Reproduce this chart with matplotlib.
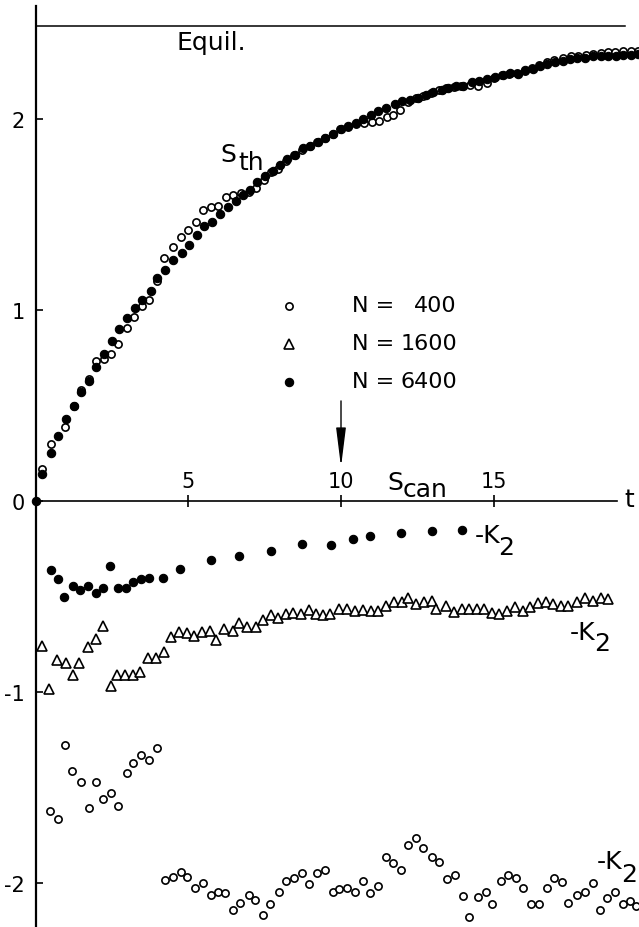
import matplotlib
matplotlib.use("Agg")
import matplotlib.pyplot as plt

# ---------------- data ----------------
# S_th, N = 6400 (filled circles)
s6400_t = [0.00, 0.21, 0.48, 0.73, 0.98, 1.26, 1.48, 1.74, 1.98, 2.23, 2.48, 2.73, 2.97,
           3.24, 3.49, 3.76, 3.98, 4.23, 4.50, 4.78, 5.03, 5.27, 5.52, 5.76, 6.03, 6.31,
           6.56, 6.78, 7.02, 7.26, 7.51, 7.76, 8.00, 8.24, 8.49, 8.76, 8.98, 9.24, 9.48,
           9.73, 9.99, 10.24, 10.48, 10.73, 10.97, 11.22, 11.48, 11.77, 11.99, 12.26,
           12.54, 12.79, 13.03, 13.30, 13.52, 13.77, 14.01, 14.29, 14.53, 14.78, 15.05,
           15.30, 15.54, 15.79, 16.03, 16.29, 16.52, 16.76, 17.02, 17.27, 17.51, 17.75,
           18.00, 18.27, 18.51, 18.76, 19.02, 19.26, 19.50, 19.75]
s6400_v = [0.00, 0.14, 0.25, 0.34, 0.43, 0.50, 0.57, 0.63, 0.70, 0.77, 0.84, 0.90, 0.96,
           1.01, 1.05, 1.10, 1.17, 1.21, 1.26, 1.30, 1.34, 1.39, 1.44, 1.46, 1.50, 1.54,
           1.57, 1.60, 1.63, 1.67, 1.70, 1.73, 1.76, 1.79, 1.81, 1.85, 1.86, 1.88, 1.90,
           1.92, 1.95, 1.965, 1.98, 2.00, 2.02, 2.04, 2.055, 2.08, 2.095, 2.10,
           2.11, 2.125, 2.14, 2.15, 2.16, 2.17, 2.175, 2.195, 2.20, 2.21, 2.22,
           2.23, 2.24, 2.235, 2.255, 2.26, 2.275, 2.29, 2.30, 2.305, 2.315, 2.32,
           2.32, 2.33, 2.33, 2.33, 2.33, 2.335, 2.335, 2.34]

# S_th, N = 400 (open circles)
s400_t = [0.21, 0.48, 0.95, 1.23, 1.48, 1.74, 1.97, 2.23, 2.46, 2.70, 2.97, 3.21, 3.49,
          3.72, 3.96, 4.21, 4.48, 4.74, 4.99, 5.23, 5.49, 5.73, 5.98, 6.23, 6.47, 6.72,
          6.97, 7.21, 7.47, 7.72, 7.95, 8.20, 8.46, 8.72, 8.97, 9.22, 9.48, 9.73, 9.98,
          10.24, 10.50, 10.75, 11.00, 11.25, 11.50, 11.72, 11.93, 12.20, 12.45, 12.70,
          12.95, 13.20, 13.45, 13.70, 13.95, 14.22, 14.50, 14.78, 15.02, 15.28, 15.52,
          15.77, 16.02, 16.26, 16.50, 16.74, 16.98, 17.27, 17.53, 17.78, 18.03, 18.27,
          18.51, 18.75, 18.98, 19.26, 19.50, 19.75]
s400_v = [0.165, 0.30, 0.39, 0.50, 0.58, 0.64, 0.735, 0.745, 0.77, 0.82, 0.905, 0.965, 1.02,
          1.05, 1.15, 1.27, 1.33, 1.38, 1.42, 1.46, 1.525, 1.54, 1.545, 1.59, 1.60, 1.61,
          1.62, 1.64, 1.68, 1.72, 1.74, 1.78, 1.81, 1.84, 1.86, 1.88, 1.90, 1.92, 1.945,
          1.96, 1.975, 1.98, 1.983, 1.99, 2.01, 2.02, 2.045, 2.09, 2.11, 2.12,
          2.135, 2.15, 2.16, 2.165, 2.17, 2.18, 2.175, 2.19, 2.215, 2.23, 2.235,
          2.24, 2.25, 2.265, 2.285, 2.30, 2.31, 2.32, 2.33, 2.33, 2.335, 2.34,
          2.345, 2.35, 2.35, 2.355, 2.355, 2.355]

# -K2, N = 6400 (filled circles)
k6400_t = [0.48, 0.72, 0.93, 1.20, 1.44, 1.69, 1.96, 2.20, 2.43, 2.69, 2.95, 3.19, 3.44,
           3.69, 4.17, 4.71, 5.73, 6.67, 7.70, 8.71, 9.66, 10.40, 10.95, 11.96, 12.97, 13.96]
k6400_v = [-0.361, -0.408, -0.504, -0.445, -0.468, -0.443, -0.480, -0.454, -0.342, -0.455,
           -0.455, -0.426, -0.408, -0.405, -0.403, -0.354, -0.309, -0.288, -0.260, -0.227,
           -0.228, -0.199, -0.182, -0.168, -0.159, -0.150]

# -K2, N = 1600 (triangles)
k1600_t = [0.19, 0.43, 0.68, 0.97, 1.22, 1.42, 1.69, 1.97, 2.19, 2.46, 2.67, 2.93, 3.19,
           3.41, 3.67, 3.93, 4.20, 4.44, 4.69, 4.94, 5.19, 5.44, 5.69, 5.90, 6.16, 6.45,
           6.67, 6.93, 7.21, 7.45, 7.69, 7.95, 8.20, 8.44, 8.69, 8.94, 9.18, 9.42, 9.64,
           9.95, 10.21, 10.46, 10.71, 10.97, 11.22, 11.48, 11.74, 11.99, 12.21, 12.46,
           12.72, 12.97, 13.13, 13.44, 13.70, 13.96, 14.21, 14.45, 14.69, 14.94, 15.19,
           15.43, 15.70, 15.96, 16.20, 16.47, 16.72, 16.96, 17.20, 17.45, 17.73, 18.00,
           18.27, 18.51, 18.76]
k1600_v = [-0.757, -0.984, -0.831, -0.848, -0.909, -0.848, -0.763, -0.723, -0.653, -0.970,
           -0.909, -0.911, -0.911, -0.897, -0.824, -0.824, -0.792, -0.710, -0.684, -0.693,
           -0.705, -0.688, -0.682, -0.726, -0.670, -0.679, -0.640, -0.661, -0.661, -0.623,
           -0.597, -0.611, -0.592, -0.586, -0.592, -0.571, -0.592, -0.597, -0.592,
           -0.565, -0.565, -0.574, -0.571, -0.574, -0.574, -0.548, -0.530, -0.530, -0.509,
           -0.539, -0.530, -0.522, -0.565, -0.548, -0.583, -0.565, -0.565, -0.565, -0.565,
           -0.586, -0.592, -0.574, -0.557, -0.574, -0.557, -0.536, -0.527, -0.539, -0.548,
           -0.548, -0.530, -0.509, -0.522, -0.509, -0.513]

# -K2, N = 400 (open circles)
k400_t = [0.46, 0.72, 0.94, 1.19, 1.46, 1.74, 1.97, 2.20, 2.45, 2.69, 2.97, 3.19, 3.44,
          3.72, 3.96, 4.23, 4.48, 4.74, 4.96, 5.21, 5.46, 5.73, 5.98, 6.21, 6.46, 6.70,
          6.97, 7.19, 7.45, 7.68, 7.97, 8.20, 8.46, 8.72, 8.96, 9.20, 9.48, 9.73, 9.95,
          10.21, 10.46, 10.71, 10.95, 11.20, 11.47, 11.72, 11.96, 12.21, 12.46, 12.70,
          12.97, 13.22, 13.49, 13.74, 13.99, 14.21, 14.50, 14.75, 14.94, 15.24, 15.49,
          15.74, 15.96, 16.22, 16.49, 16.74, 16.98, 17.24, 17.45, 17.73, 18.00, 18.25,
          18.49, 18.73, 18.98, 19.23, 19.48, 19.67]
k400_v = [-1.623, -1.663, -1.277, -1.414, -1.473, -1.607, -1.469, -1.560, -1.527, -1.595,
          -1.422, -1.370, -1.332, -1.358, -1.293, -1.983, -1.967, -1.944, -1.967, -2.028,
          -2.000, -2.063, -2.045, -2.054, -2.140, -2.103, -2.061, -2.089, -2.168, -2.110,
          -2.045, -1.988, -1.975, -1.948, -2.005, -1.949, -1.934, -2.049, -2.030,
          -2.028, -2.049, -1.990, -2.052, -2.017, -1.862, -1.897, -1.930, -1.801, -1.764,
          -1.818, -1.866, -1.892, -1.979, -1.958, -2.066, -2.176, -2.075, -2.049, -2.110,
          -1.988, -1.958, -1.976, -2.028, -2.110, -2.110, -2.028, -1.976, -1.993, -2.106,
          -2.063, -2.049, -2.002, -2.141, -2.080, -2.045, -2.110, -2.093, -2.120]

equil_value = 2.488
arrow_t = 10.0
x_ticks = [5, 10, 15]
x_tick_labels = ["5", "10", "15"]
y_ticks = [2, 1, 0, -1, -2]
y_tick_labels = ["2", "1", "0", "-1", "-2"]
legend_labels = ["400", "1600", "6400"]

# ---------------- figure ----------------
fig = plt.figure(figsize=(6.39, 9.28), dpi=100)
ax = fig.add_axes([0, 0, 1, 1])
ax.set_xlim(-1.180, 19.770)
ax.set_ylim(-2.230, 2.628)

for s in ("right", "bottom"):
    ax.spines[s].set_visible(False)
ax.spines["left"].set_position(("data", 0))
ax.spines["left"].set_bounds(-2.23, 2.592)
ax.spines["left"].set_linewidth(1.6)
ax.spines["top"].set_position(("data", 0))
ax.spines["top"].set_bounds(0, 19.04)
ax.spines["top"].set_linewidth(1.2)

ax.xaxis.set_ticks_position("top")
ax.set_xticks(x_ticks, labels=x_tick_labels)
ax.tick_params(axis="x", direction="inout", length=8, width=1.2, pad=3, labelsize=15)
ax.set_yticks(y_ticks, labels=y_tick_labels)
ax.tick_params(axis="y", direction="in", length=5, width=1.2, pad=8, labelsize=15)

# equilibrium line
ax.plot([0, 19.3], [equil_value, equil_value], color="black", lw=1.1)

mk_f = dict(marker="o", ls="none", ms=6.0, mfc="black", mec="black", mew=0.8)
mk_o = dict(marker="o", ls="none", ms=5.2, mfc="white", mec="black", mew=1.2)
mk_t = dict(marker="^", ls="none", ms=7.4, mfc="white", mec="black", mew=1.2)

ax.plot(s400_t, s400_v, **mk_o, zorder=3)
ax.plot(s6400_t, s6400_v, **mk_f, zorder=4)
ax.plot(k6400_t, k6400_v, **mk_f, zorder=4)
ax.plot(k1600_t, k1600_v, **mk_t, zorder=4)
ax.plot(k400_t, k400_v, **mk_o, zorder=4)

# legend (manual, matching layout)
leg_t = 8.30
leg_v = [1.021, 0.822, 0.623]
leg_styles = [mk_o, mk_t, mk_f]
for v, st, lab in zip(leg_v, leg_styles, legend_labels):
    ax.plot([leg_t], [v], **st)
    ax.text(10.36, v + 0.003, "N =", fontsize=16, va="center", ha="left")
    ax.text(13.80, v + 0.003, lab, fontsize=16, va="center", ha="right")

fs = 18
ax.text(4.62, 2.403, "Equil.", fontsize=fs, va="center", ha="left")
ax.text(6.03, 1.817, "S", fontsize=fs, va="center", ha="left")
ax.text(6.62, 1.775, "th", fontsize=fs, va="center", ha="left")
ax.text(11.51, 0.10, "S", fontsize=fs, va="center", ha="left")
ax.text(12.03, 0.063, "can", fontsize=fs, va="center", ha="left")
ax.text(19.30, 0.01, "t", fontsize=fs, va="center", ha="left")

ax.text(14.39, -0.178, "-K", fontsize=fs, va="center", ha="left")
ax.text(15.16, -0.241, "2", fontsize=fs, va="center", ha="left")
ax.text(17.51, -0.686, "-K", fontsize=fs, va="center", ha="left")
ax.text(18.30, -0.743, "2", fontsize=fs, va="center", ha="left")
ax.text(18.39, -1.885, "-K", fontsize=fs, va="center", ha="left")
ax.text(19.17, -1.953, "2", fontsize=fs, va="center", ha="left")

ax.annotate("", xy=(arrow_t, 0.178), xytext=(arrow_t, 0.524),
            arrowprops=dict(arrowstyle="-|>,head_length=2.4,head_width=0.3",
                            color="black", lw=1.0, shrinkA=0, shrinkB=0))

fig.savefig("out.png", dpi=100)
